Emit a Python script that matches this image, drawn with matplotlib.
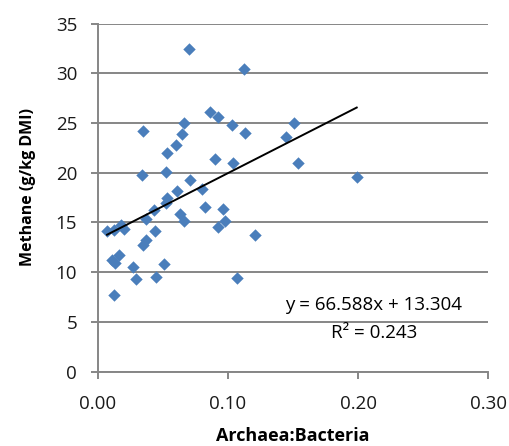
import numpy as np
import matplotlib
matplotlib.use('Agg')
import matplotlib.pyplot as plt

# datos
ratio = [0.007, 0.012, 0.018, 0.020, 0.011, 0.013, 0.016, 0.012, 0.027, 0.029,
         0.035, 0.037, 0.044, 0.037, 0.043, 0.045, 0.051, 0.034, 0.052, 0.052,
         0.053, 0.061, 0.071, 0.063, 0.066, 0.080, 0.082, 0.092, 0.096, 0.098,
         0.107, 0.121, 0.070, 0.112, 0.035, 0.053, 0.060, 0.065, 0.066, 0.086,
         0.092, 0.103, 0.113, 0.090, 0.104, 0.145, 0.151, 0.154, 0.199]
metano = [14.1, 14.2, 14.7, 14.3, 11.2, 10.9, 11.7, 7.7, 10.5, 9.3,
          12.7, 13.2, 14.1, 15.4, 16.3, 9.5, 10.8, 19.8, 20.1, 17.0,
          17.5, 18.2, 19.3, 15.9, 15.1, 18.4, 16.6, 14.5, 16.4, 15.2,
          9.4, 13.7, 32.4, 30.4, 24.2, 22.0, 22.8, 23.9, 25.0, 26.1,
          25.6, 24.8, 24.0, 21.4, 21.0, 23.6, 25.0, 21.0, 19.6]
pendiente = 66.588
intercepto = 13.304
r2 = 0.243
x_ticks = [0.0, 0.1, 0.2, 0.3]
y_ticks = [0, 5, 10, 15, 20, 25, 30, 35]

plt.rcParams['font.family'] = ['Open Sans', 'DejaVu Sans']

fig = plt.figure(figsize=(5.10, 4.46), dpi=100)
ax = fig.add_axes([0.192, 0.1666, 0.765, 0.7806])

gris = '#868686'
ax.set_xlim(0, 0.3)
ax.set_ylim(0, 35)
ax.set_xticks(x_ticks)
ax.set_xticklabels([f'{t:.2f}' for t in x_ticks])
ax.set_yticks(y_ticks)
ax.yaxis.grid(True, color=gris, linewidth=1.4)
ax.set_axisbelow(True)
for s in ['top', 'right']:
    ax.spines[s].set_visible(False)
for s in ['left', 'bottom']:
    ax.spines[s].set_color(gris)
    ax.spines[s].set_linewidth(1.4)
ax.tick_params(axis='both', colors=gris, length=5, width=1.4, labelsize=13.5,
               labelcolor='#1a1a1a')
ax.tick_params(axis='y', pad=10)
ax.tick_params(axis='x', pad=12)

ax.scatter(ratio, metano, marker='D', s=40, color='#4A7EBB', zorder=3,
           linewidths=0)

# linea de tendencia
xs = np.array([min(ratio), max(ratio)])
ax.plot(xs, pendiente * xs + intercepto, color='black', linewidth=1.4, zorder=4)

ax.text(0.2123, 6.7, f'y = {pendiente}x + {intercepto}', ha='center', va='center',
        fontsize=13.5)
ax.text(0.2123, 3.9, f'R² = {r2}', ha='center', va='center', fontsize=13.5)

ax.set_xlabel('Archaea:Bacteria', fontsize=13, fontweight='bold', va='center')
ax.set_ylabel('Methane (g/kg DMI)', fontsize=11.5, fontweight='bold', va='center')
ax.xaxis.set_label_coords(0.5, -0.185)
ax.yaxis.set_label_coords(-0.18, 0.53)

fig.savefig('out.png', dpi=100)
